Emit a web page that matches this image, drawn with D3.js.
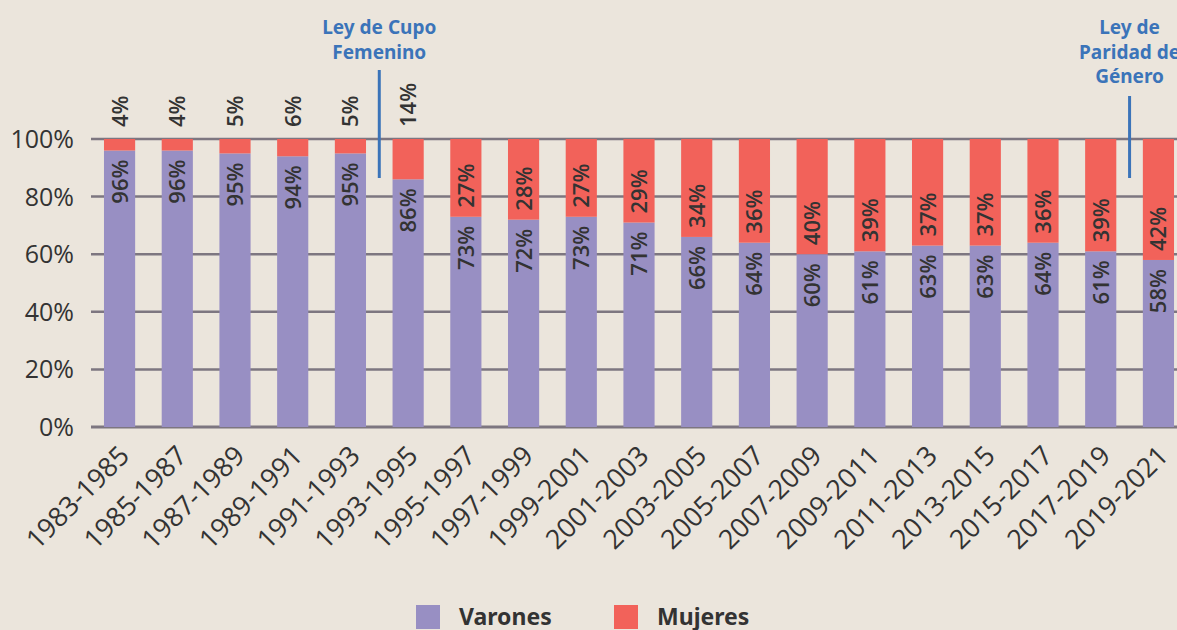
<!DOCTYPE html>
<html>
<head>
<meta charset="utf-8">
<script src="https://cdn.jsdelivr.net/npm/d3@7"></script>
<style>
  body { margin: 0; background: #ebe5dc; }
  svg { display: block; font-family: "Open Sans", "Noto Sans", sans-serif; }
  .tick-label { font-size: 25px; fill: #333; }
  .x-label { font-size: 27px; fill: #333; }
  .value-label { font-size: 22px; font-weight: 600; fill: #333; }
  .note { font-size: 19px; font-weight: bold; fill: #3b74b9; font-family: "Noto Sans", sans-serif; }
  .legend-text { font-size: 23px; font-weight: bold; fill: #333; font-family: "Noto Sans", sans-serif; }
</style>
</head>
<body>
<div id="chart"></div>
<script>
// Data
var periods = ["1983-1985", "1985-1987", "1987-1989", "1989-1991", "1991-1993", "1993-1995",
    "1995-1997", "1997-1999", "1999-2001", "2001-2003", "2003-2005", "2005-2007", "2007-2009",
    "2009-2011", "2011-2013", "2013-2015", "2015-2017", "2017-2019", "2019-2021"];
var varones = [96, 96, 95, 94, 95, 86, 73, 72, 73, 71, 66, 64, 60, 61, 63, 63, 64, 61, 58];
var mujeres = [4, 4, 5, 6, 5, 14, 27, 28, 27, 29, 34, 36, 40, 39, 37, 37, 36, 39, 42];
var yTicks = [0, 20, 40, 60, 80, 100];
var series = ["Varones", "Mujeres"];
// laws marked on the chart: placed between two periods
var notes = [
    {after: "1991-1993", lines: ["Ley de Cupo", "Femenino"]},
    {after: "2017-2019", lines: ["Ley de", "Paridad de", "Género"]}
];

var colors = {Varones: "#988fc3", Mujeres: "#f2625a"};

var width = 1177, height = 630;
var m = {left: 91, right: 1187, top: 139, bottom: 427};

var svg = d3.select("#chart")
    .append("svg")
    .attr("width", width)
    .attr("height", height);

svg.append("rect")
    .attr("width", width)
    .attr("height", height)
    .attr("fill", "#ebe5dc");

// scales
var xScale = d3.scaleBand()
    .domain(periods)
    .range([m.left, m.right])
    .paddingInner(0.46)
    .paddingOuter(0.225);

var yScale = d3.scaleLinear()
    .domain([0, 100])
    .range([m.bottom, m.top]);

// grid lines
svg.append("g")
    .selectAll("line")
    .data(yTicks)
    .enter().append("line")
    .attr("x1", m.left)
    .attr("x2", width)
    .attr("y1", d => yScale(d))
    .attr("y2", d => yScale(d))
    .attr("stroke", "#7d7680")
    .attr("stroke-width", d => d === 0 ? 3 : 2.5);

// y axis labels
svg.append("g")
    .selectAll("text")
    .data(yTicks)
    .enter().append("text")
    .attr("class", "tick-label")
    .attr("x", 74)
    .attr("y", d => yScale(d) + 9)
    .attr("text-anchor", "end")
    .text(d => d + "%");

// stacked bars
var rows = periods.map((p, i) => ({period: p, Varones: varones[i], Mujeres: mujeres[i]}));
var stacked = d3.stack().keys(series)(rows);

svg.append("g")
    .selectAll("g")
    .data(stacked)
    .enter().append("g")
    .attr("fill", d => colors[d.key])
    .selectAll("rect")
    .data(d => d)
    .enter().append("rect")
    .attr("x", d => xScale(d.data.period))
    .attr("width", xScale.bandwidth())
    .attr("y", d => yScale(d[1]))
    .attr("height", d => yScale(d[0]) - yScale(d[1]));

// value labels
var cx = p => xScale(p) + xScale.bandwidth() / 2;

// varones: inside the top of the purple segment
svg.append("g")
    .selectAll("text")
    .data(rows)
    .enter().append("text")
    .attr("class", "value-label")
    .attr("transform", d => "translate(" + (cx(d.period) + 8) + "," + (yScale(d.Varones) + 9) + ") rotate(-90)")
    .attr("text-anchor", "end")
    .text(d => d.Varones + "%");

// mujeres: inside the base of the red segment, or above the bar when too small
svg.append("g")
    .selectAll("text")
    .data(rows)
    .enter().append("text")
    .attr("class", "value-label")
    .attr("transform", function (d) {
        var y = d.Mujeres <= 14 ? yScale(100) - 12 : yScale(d.Varones) - 9;
        return "translate(" + (cx(d.period) + 8) + "," + y + ") rotate(-90)";
    })
    .attr("text-anchor", "start")
    .text(d => d.Mujeres + "%");

// x axis labels
svg.append("g")
    .selectAll("text")
    .data(periods)
    .enter().append("text")
    .attr("class", "x-label")
    .attr("transform", d => "translate(" + (cx(d) - 2) + "," + 444 + ") rotate(-45)")
    .attr("text-anchor", "end")
    .attr("dy", "0.7em")
    .text(d => d);

// annotations
notes.forEach(function (n) {
    var i = periods.indexOf(n.after);
    var x = (cx(periods[i]) + cx(periods[i + 1])) / 2;
    var lineTop = n.lines.length === 2 ? 70 : 96;
    svg.append("line")
        .attr("x1", x).attr("x2", x)
        .attr("y1", lineTop).attr("y2", 178)
        .attr("stroke", "#3b74b9")
        .attr("stroke-width", 3);
    svg.append("g")
        .selectAll("text")
        .data(n.lines)
        .enter().append("text")
        .attr("class", "note")
        .attr("x", x)
        .attr("y", (d, j) => 34 + j * 24.5)
        .attr("text-anchor", "middle")
        .text(d => d);
});

// legend
var legend = svg.append("g").attr("class", "legend");
var legendX = [416, 614];
series.forEach(function (s, i) {
    legend.append("rect")
        .attr("x", legendX[i])
        .attr("y", 605)
        .attr("width", 24)
        .attr("height", 24)
        .attr("fill", colors[s]);
    legend.append("text")
        .attr("class", "legend-text")
        .attr("x", legendX[i] + 43)
        .attr("y", 625)
        .text(s);
});
</script>
</body>
</html>
